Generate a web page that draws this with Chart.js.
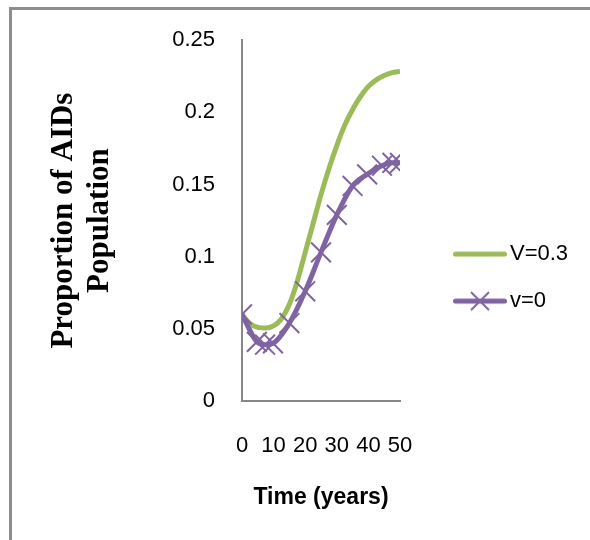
<!DOCTYPE html>
<html>
<head>
<meta charset="utf-8">
<script src="https://cdn.jsdelivr.net/npm/chart.js@4/dist/chart.umd.min.js"></script>
<style>
  html, body { margin: 0; padding: 0; background: #fff; overflow: hidden; }
  #wrap { position: relative; width: 590px; height: 540px; }
  #frame { position: absolute; left: 9px; top: 7px; width: 700px; height: 700px; border: 3px solid #8d8d8d; box-sizing: border-box; }
  #chart { position: absolute; left: 0; top: 0; }
</style>
</head>
<body>
<div id="wrap">
  <div id="frame"></div>
  <canvas id="chart" width="590" height="540"></canvas>
</div>
<script>
// values
const seriesLabels = ['V=0.3', 'v=0'];
const greenYears = [0, 2.5, 5, 7.5, 10, 12.5, 15, 17.5, 20, 22.5, 25, 27.5, 30, 32.5, 35, 37.5, 40, 42.5, 45, 47.5, 50];
const greenValues = [0.060, 0.0535, 0.051, 0.0505, 0.052, 0.057, 0.067, 0.083, 0.103, 0.123, 0.143, 0.161, 0.177, 0.191, 0.202, 0.211, 0.218, 0.2225, 0.2255, 0.2275, 0.2285];
const purpleYears = [0, 4.7, 7.3, 9.8, 15, 20, 25, 30, 35, 39.6, 44.3, 47.6, 50];
const purpleValues = [0.060, 0.041, 0.039, 0.040, 0.054, 0.076, 0.103, 0.129, 0.149, 0.157, 0.163, 0.165, 0.165];
const xTicks = [0, 10, 20, 30, 40, 50];
const yTicks = [0, 0.05, 0.1, 0.15, 0.2, 0.25];

const GREEN = '#9bbb59';
const PURPLE = '#8064a2';

function toPoints(xs, ys) {
  return xs.map((x, i) => ({ x: x, y: ys[i] }));
}

// legend swatch: line with optional x marker, like the Excel legend
function legendImage(color, withCross) {
  const c = document.createElement('canvas');
  c.width = 90; c.height = 26;
  const g = c.getContext('2d');
  g.strokeStyle = color;
  g.lineCap = 'round';
  g.lineWidth = 5;
  g.beginPath(); g.moveTo(38.5, 13); g.lineTo(87.5, 13); g.stroke();
  if (withCross) {
    const r = 9, cx = 63, cy = 13;
    g.lineWidth = 2;
    g.lineCap = 'butt';
    g.beginPath();
    g.moveTo(cx - r, cy - r); g.lineTo(cx + r, cy + r);
    g.moveTo(cx + r, cy - r); g.lineTo(cx - r, cy + r);
    g.stroke();
  }
  return c;
}
const legendImages = [legendImage(GREEN, false), legendImage(PURPLE, true)];

Chart.defaults.color = '#000';

new Chart(document.getElementById('chart').getContext('2d'), {
  type: 'line',
  data: {
    datasets: [{
      label: seriesLabels[0],
      data: toPoints(greenYears, greenValues),
      borderColor: GREEN,
      backgroundColor: GREEN,
      borderWidth: 5,
      pointRadius: 0,
      cubicInterpolationMode: 'monotone',
      order: 1
    }, {
      label: seriesLabels[1],
      data: toPoints(purpleYears, purpleValues),
      borderColor: PURPLE,
      backgroundColor: PURPLE,
      borderWidth: 5,
      pointStyle: 'crossRot',
      pointRadius: 14,
      pointBorderWidth: 2,
      pointBorderColor: PURPLE,
      cubicInterpolationMode: 'monotone',
      order: 0
    }]
  },
  options: {
    responsive: false,
    animation: false,
    layout: { padding: { left: 10, right: 22, top: 38, bottom: 0 } },
    plugins: {
      tooltip: { enabled: false },
      legend: {
        position: 'right',
        fullSize: false,
        maxWidth: 168,
        title: { display: true, text: ' ', font: { size: 10 }, padding: { top: 0, bottom: 102 } },
        labels: {
          usePointStyle: true,
          pointStyleWidth: 74,
          boxHeight: 22,
          padding: 25,
          font: { family: 'Liberation Sans', size: 22 },
          sort: (a, b) => a.datasetIndex - b.datasetIndex,
          generateLabels: chart => {
            const items = Chart.defaults.plugins.legend.labels.generateLabels(chart);
            items.forEach(it => { it.pointStyle = legendImages[it.datasetIndex]; });
            return items;
          }
        }
      }
    },
    scales: {
      x: {
        type: 'linear',
        position: 'bottom',
        min: 0,
        max: 50,
        afterFit: s => { s.height = 139; },
        afterBuildTicks: s => { s.ticks = xTicks.map(v => ({ value: v })); },
        grid: { display: false, drawTicks: false },
        border: { display: true, color: '#868686', width: 2 },
        ticks: { padding: 32, font: { family: 'Liberation Sans', size: 22 }, maxRotation: 0, autoSkip: false },
        title: {
          display: true,
          text: 'Time (years)',
          font: { family: 'Liberation Sans', size: 23, weight: 'bold' },
          padding: { top: 0, bottom: 29 }
        }
      },
      y: {
        min: 0,
        max: 0.25,
        afterFit: s => { s.width = 232; },
        afterBuildTicks: s => { s.ticks = yTicks.map(v => ({ value: v })); },
        grid: { display: false, drawTicks: false },
        border: { display: true, color: '#868686', width: 2 },
        ticks: {
          padding: 27,
          font: { family: 'Liberation Sans', size: 22 },
          callback: v => String(Math.round(v * 100) / 100)
        },
        title: {
          display: true,
          text: ['Proportion of AIDs', 'Population'],
          font: { family: 'Liberation Serif', size: 31, weight: 'bold', lineHeight: '36px' },
          padding: { top: 36, bottom: 0 }
        }
      }
    }
  }
});
</script>
</body>
</html>
